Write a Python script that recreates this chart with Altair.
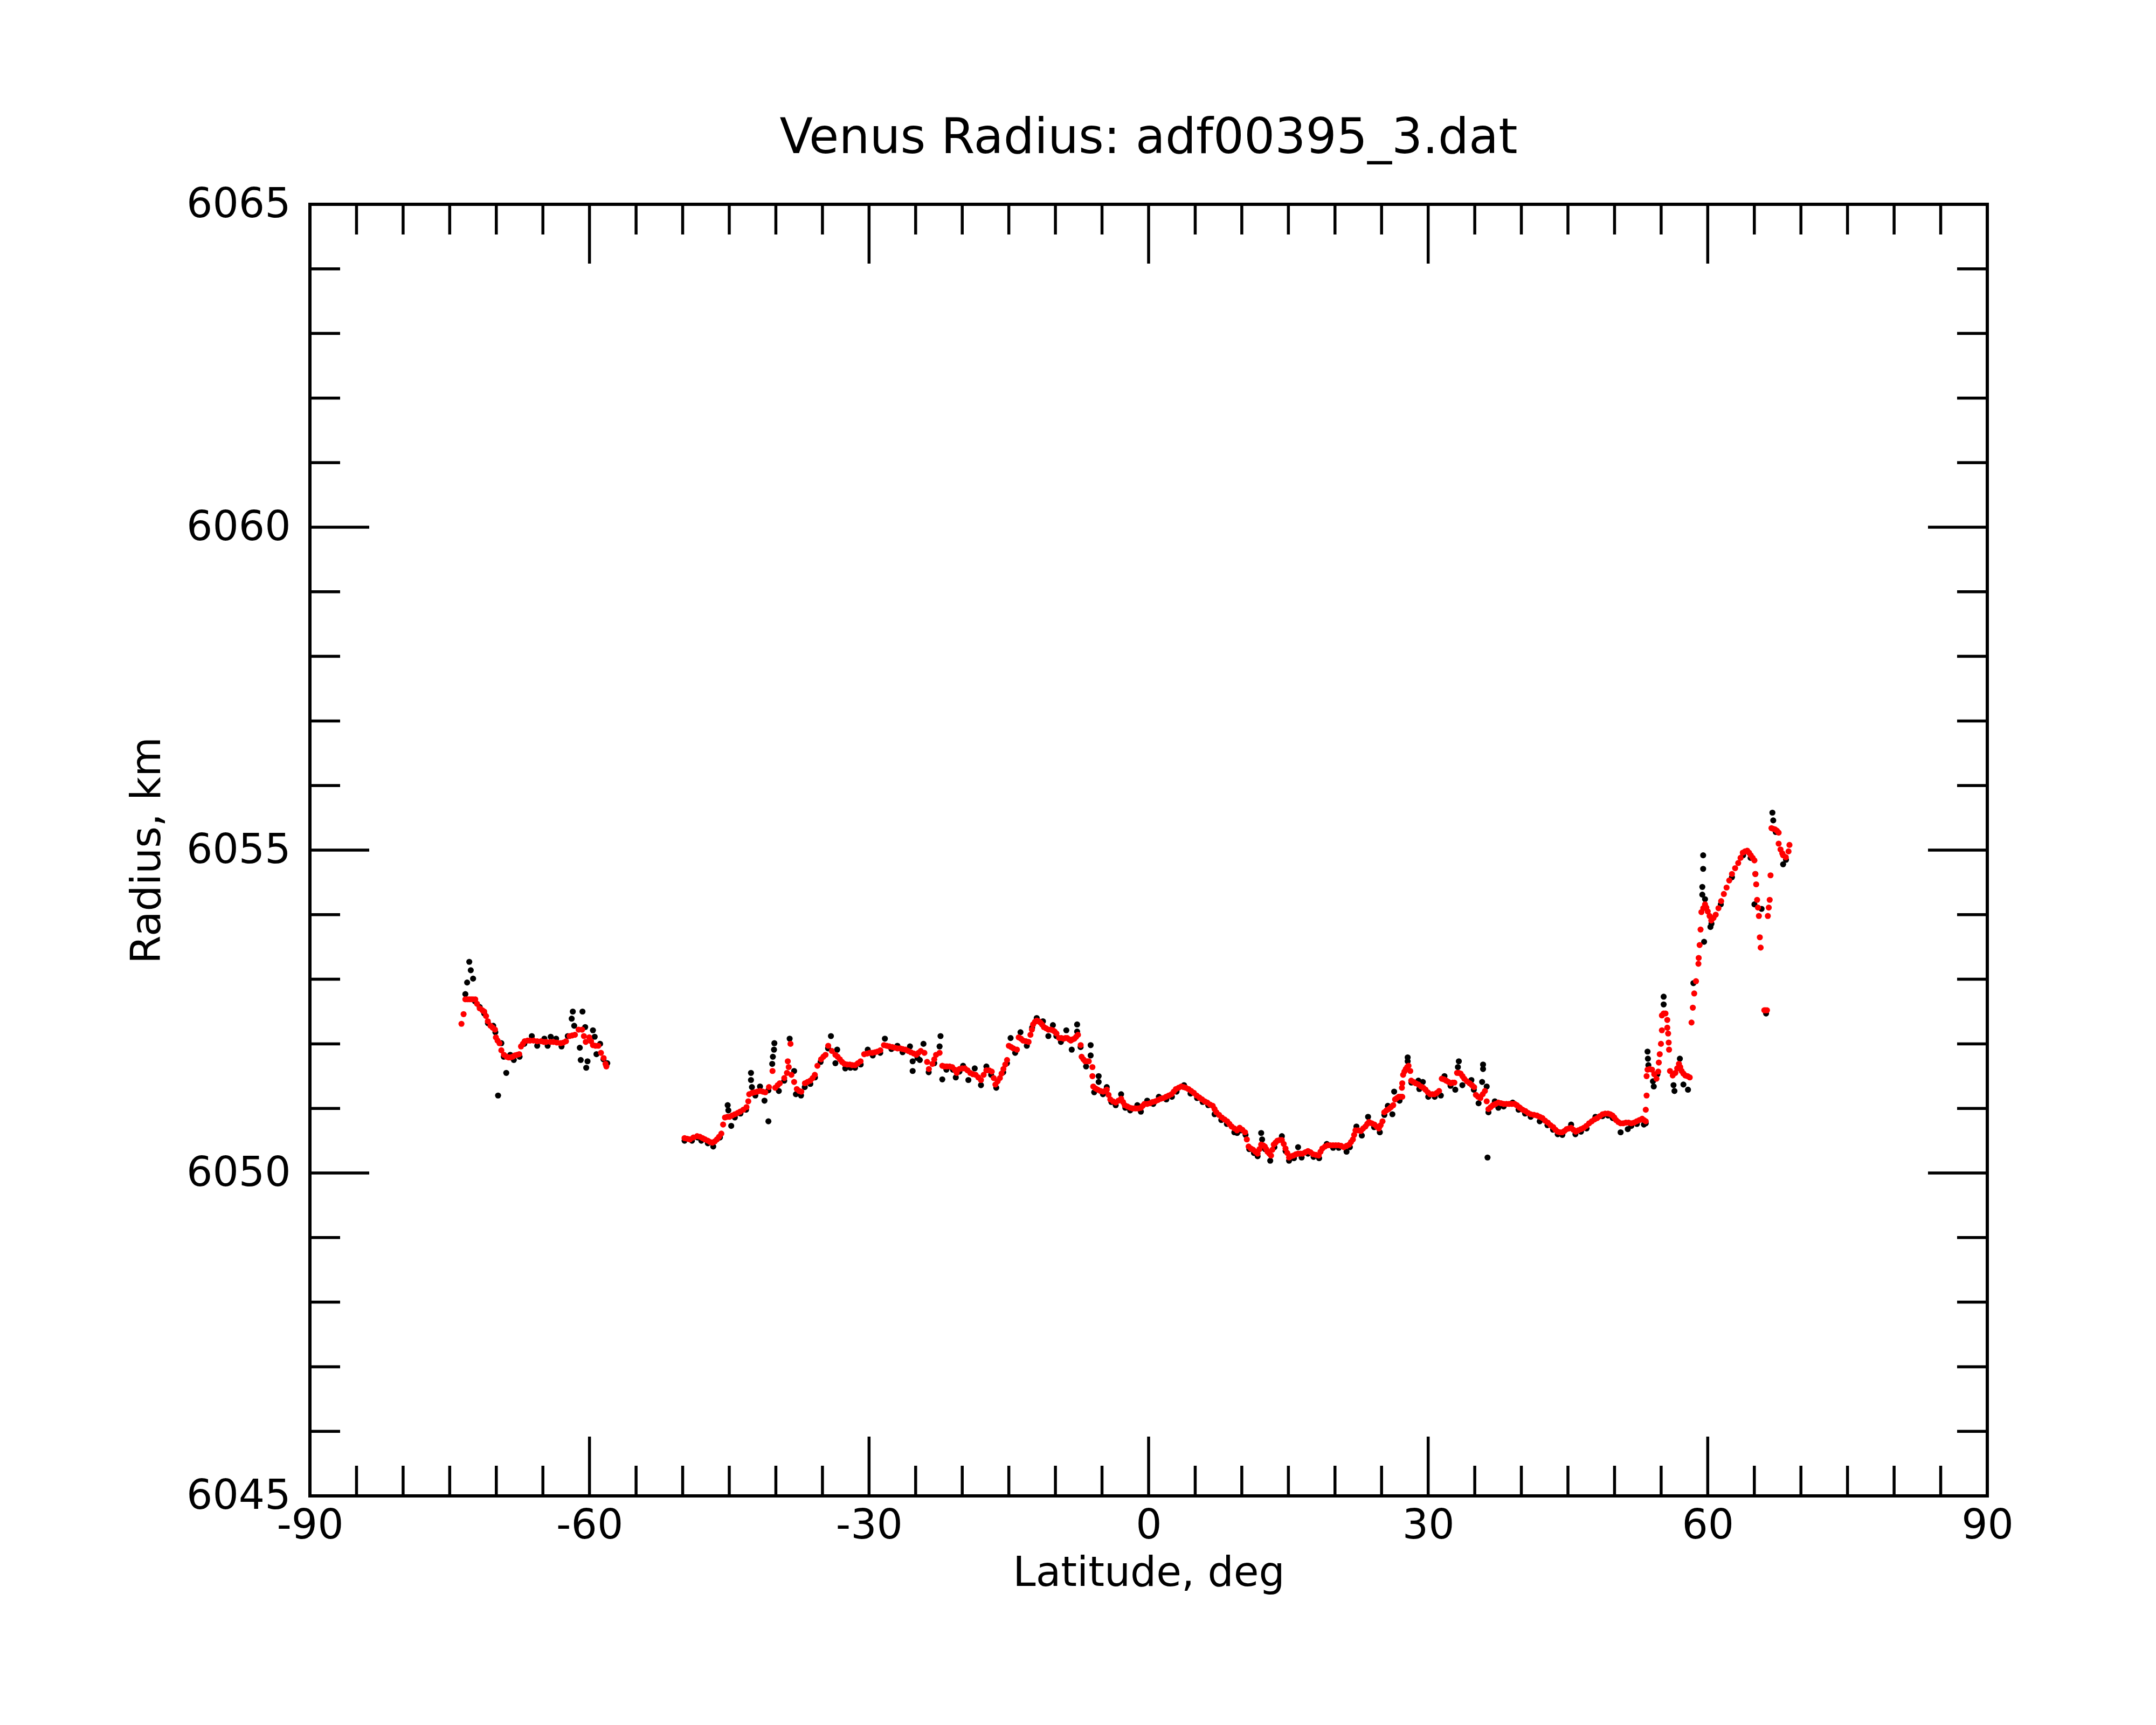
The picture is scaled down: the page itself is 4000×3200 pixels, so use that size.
import altair as alt
import pandas as pd

# ---------------- data ----------------
# smoothed radius (red)
red_lat = [
    -73.74, -73.51, -73.32, -73.1, -72.9, -72.7, -72.5, -72.26, -72.07, -71.78, -71.5, -71.30, -71.10, -70.91,
    -70.62, -70.38, -70.14, -70.04, -69.86, -69.66, -69.46, -69.18, -68.89, -68.7, -68.5, -68.25, -68.02, -67.78,
    -67.54, -67.35, -67.15, -66.96, -66.65, -66.38, -66.0, -65.61, -65.2, -64.9, -64.65, -64.2, -63.87, -63.5,
    -63.1, -62.8, -62.52, -62.14, -61.85, -61.56, -61.17, -60.79, -60.60, -60.40, -60.02, -59.83, -59.63, -59.35,
    -59.05, -58.77, -58.48, -58.28, -58.19,
    -49.80, -49.5, -49.22, -48.85, -48.45, -48.15, -47.87, -47.6, -47.30, -47.05, -46.81, -46.55, -46.33, -46.1,
    -45.85, -45.66, -45.46, -45.2, -44.98, -44.7, -44.40, -44.1, -43.83, -43.5, -43.15, -42.96, -42.86, -42.55,
    -42.28, -42.0, -41.70, -41.4, -41.13, -40.74, -40.36, -40.07, -39.8, -39.58, -39.10, -38.81, -38.72, -38.43,
    -38.62, -38.33, -38.04, -37.75, -37.5, -37.27, -36.88, -36.6, -36.31, -36.05, -35.82, -35.54, -35.15, -34.9,
    -34.67, -34.38, -33.99, -33.61, -33.37, -33.13, -32.9, -32.64, -32.35, -32.07, -31.8, -31.49, -31.2, -30.91,
    -30.52, -30.2, -29.94, -29.65, -29.37, -29.1, -28.79, -28.40, -28.1, -27.82, -27.5, -27.24, -26.95, -26.67,
    -26.4, -26.09, -25.8, -25.51, -25.2, -24.93, -24.7, -24.45, -24.06, -23.77, -23.58, -23.20, -23.0, -22.81,
    -22.43, -22.14, -21.9, -21.65, -21.35, -21.08, -20.8, -20.59,
    -20.30, -20.0, -19.72, -19.43, -19.14, -18.85, -18.56, -18.27, -17.99, -17.7, -17.41, -17.12, -16.83, -16.62,
    -16.44, -16.2, -15.96, -15.78, -15.58, -15.38, -15.19, -15.0, -14.75, -14.52, -14.13, -13.94, -13.7, -13.46,
    -13.17, -12.88, -12.68, -12.52, -12.40, -12.2, -12.01, -11.8, -11.62, -11.43, -11.24, -11.0, -10.76, -10.5,
    -10.27, -10.08, -9.89, -9.60, -9.36, -9.12, -8.93, -8.73, -8.54, -8.35, -8.15, -7.96, -7.77, -7.58, -7.29,
    -7.19, -7.0, -6.80, -6.61, -6.42, -6.03, -6.03, -5.94, -5.7, -5.46, -5.17, -4.88, -4.68, -4.49, -4.3, -4.11,
    -3.82, -3.53, -3.24, -2.95, -2.75, -2.56, -2.27, -1.98, -1.7, -1.41, -1.12, -0.83, -0.64, -0.44, -0.15,
    0.14, 0.43, 0.71, 1.0, 1.29, 1.58, 1.87, 2.16, 2.45, 2.7, 2.93, 3.22, 3.51, 3.75, 3.99, 4.28, 4.57, 4.86,
    5.15, 5.44, 5.73, 6.02, 6.30, 6.59, 6.88, 7.08, 7.27, 7.56, 7.85, 8.14, 8.43, 8.67, 8.91, 9.2, 9.49,
    9.77, 10.06, 10.35, 10.54, 10.73, 10.97, 11.22, 11.46, 11.70, 11.9, 12.08, 12.28, 12.47, 12.62, 12.76, 12.95,
    13.14, 13.28, 13.43, 13.62, 13.82, 14.06, 14.30, 14.5, 14.69, 14.88, 15.07, 15.31, 15.55, 15.8, 16.04, 16.28,
    16.52, 16.81, 17.10, 17.38, 17.67, 17.96, 18.25, 18.45, 18.64, 18.93, 19.22, 19.5, 19.79, 20.08, 20.37, 20.66,
    20.95, 21.24, 21.53, 21.72, 21.92, 22.06, 22.20, 22.5, 22.78, 23.02, 23.27, 23.46, 23.65, 23.94, 24.23, 24.47,
    24.71, 24.9, 25.10, 25.29, 25.53, 25.77, 26.01, 26.25, 26.45, 26.64, 26.83, 27.02, 27.22, 27.18, 27.22, 27.31,
    27.45, 27.60, 27.75, 27.89, 28.08, 28.18, 28.42, 28.66, 28.95, 29.24, 29.48, 29.72, 29.96, 30.21, 30.45, 30.69,
    30.93, 31.17, 31.46, 31.7, 31.94, 32.18, 32.42, 32.62, 32.81, 33.10, 33.29, 33.48, 33.68, 33.87, 34.16, 34.45,
    34.69, 34.93, 35.12, 35.36, 35.60, 35.85, 36.09, 36.28, 36.47, 36.71, 36.95, 37.24, 37.53, 37.82, 38.11, 38.4,
    38.69, 38.98, 39.27, 39.51, 39.75,
    39.85, 40.14, 40.43, 40.72, 41.01, 41.35, 41.68, 41.97, 42.26, 42.55, 42.84, 43.13, 43.42, 43.66, 43.90, 44.14,
    44.38, 44.62, 44.86, 45.1, 45.34, 45.58, 45.83, 46.1, 46.40, 46.7, 46.98, 47.27, 47.56, 47.85, 48.14, 48.43,
    48.72, 49.0, 49.30, 49.54, 49.78, 49.97, 50.16, 50.4, 50.65, 50.93, 51.22, 51.51, 51.80, 52.09, 52.38, 52.67,
    52.96, 53.15, 53.35, 53.35, 53.44, 53.44, 53.54, 53.78, 54.02, 54.26, 54.50, 54.69, 54.75, 54.85, 54.98, 55.08,
    55.08, 55.27, 55.47, 55.66, 55.66, 55.75, 55.81, 55.85, 55.95, 56.24, 56.53, 56.72, 56.91, 57.05, 57.20, 57.39,
    57.59, 57.83, 58.07, 58.26, 58.40, 58.55, 58.74, 59.0, 59.03, 59.13, 59.23, 59.32, 59.52, 59.71, 59.85, 60.0,
    60.2, 60.38, 60.62, 60.86, 61.15, 61.44, 61.73, 62.02, 62.31, 62.60, 62.94, 63.27, 63.52, 63.76, 64.0, 64.24,
    64.43, 64.62, 64.82, 65.01, 65.11, 65.20, 65.30, 65.39, 65.49, 65.59, 65.68, 66.07, 66.2, 66.36, 66.45, 66.55,
    66.65, 66.74, 66.84, 67.03, 67.23, 67.42, 67.61, 67.61, 67.81, 68.0, 68.09, 68.38, 68.67, 68.77,
]
red_r = [
    6052.31, 6052.46, 6052.69, 6052.69, 6052.69, 6052.69, 6052.69, 6052.69, 6052.62, 6052.55, 6052.52, 6052.50, 6052.43, 6052.35,
    6052.28, 6052.25, 6052.22, 6052.10, 6052.05, 6052.01, 6051.90, 6051.83, 6051.80, 6051.79, 6051.79, 6051.80, 6051.82, 6051.83,
    6051.84, 6051.96, 6052.00, 6052.04, 6052.05, 6052.05, 6052.05, 6052.04, 6052.04, 6052.03, 6052.03, 6052.03, 6052.03, 6052.02,
    6052.01, 6052.02, 6052.04, 6052.12, 6052.13, 6052.14, 6052.22, 6052.22, 6052.12, 6052.03, 6052.10, 6052.04, 6051.98, 6051.97,
    6051.97, 6051.86, 6051.78, 6051.69, 6051.65,
    6050.54, 6050.53, 6050.52, 6050.55, 6050.57, 6050.56, 6050.54, 6050.52, 6050.50, 6050.48, 6050.47, 6050.49, 6050.52, 6050.56,
    6050.61, 6050.75, 6050.86, 6050.87, 6050.87, 6050.89, 6050.91, 6050.93, 6050.95, 6050.98, 6051.02, 6051.11, 6051.22, 6051.24,
    6051.25, 6051.26, 6051.27, 6051.26, 6051.25, 6051.33, 6051.58, 6051.32, 6051.36, 6051.39, 6051.47, 6051.55, 6051.73, 6052.00,
    6051.64, 6051.52, 6051.41, 6051.30, 6051.27, 6051.26, 6051.39, 6051.41, 6051.43, 6051.47, 6051.52, 6051.66, 6051.76, 6051.80,
    6051.83, 6051.97, 6051.89, 6051.83, 6051.80, 6051.76, 6051.72, 6051.69, 6051.68, 6051.68, 6051.67, 6051.67, 6051.70, 6051.73,
    6051.84, 6051.85, 6051.86, 6051.86, 6051.87, 6051.88, 6051.90, 6051.98, 6051.97, 6051.96, 6051.95, 6051.94, 6051.93, 6051.93,
    6051.92, 6051.91, 6051.89, 6051.87, 6051.85, 6051.83, 6051.86, 6051.89, 6051.86, 6051.72, 6051.61, 6051.69, 6051.76, 6051.83,
    6051.86, 6051.66, 6051.65, 6051.65, 6051.65, 6051.64, 6051.60, 6051.55,
    6051.61, 6051.62, 6051.62, 6051.59, 6051.55, 6051.53, 6051.52, 6051.48, 6051.44, 6051.52, 6051.59, 6051.59, 6051.57, 6051.47,
    6051.37, 6051.42, 6051.47, 6051.54, 6051.61, 6051.68, 6051.75, 6051.97, 6051.95, 6051.93, 6051.91, 6052.10, 6052.08, 6052.05,
    6052.04, 6052.03, 6052.14, 6052.22, 6052.30, 6052.34, 6052.36, 6052.35, 6052.33, 6052.30, 6052.26, 6052.24, 6052.22, 6052.22,
    6052.21, 6052.19, 6052.16, 6052.09, 6052.09, 6052.08, 6052.09, 6052.09, 6052.07, 6052.05, 6052.07, 6052.08, 6052.11, 6052.14, 6051.98,
    6051.80, 6051.76, 6051.73, 6051.73, 6051.73, 6051.64, 6051.50, 6051.34, 6051.31, 6051.29, 6051.27, 6051.26, 6051.27, 6051.29, 6051.21, 6051.14,
    6051.11, 6051.09, 6051.12, 6051.15, 6051.10, 6051.05, 6051.03, 6051.01, 6051.00, 6051.00, 6051.00, 6051.01, 6051.04, 6051.07, 6051.07,
    6051.08, 6051.10, 6051.11, 6051.13, 6051.15, 6051.16, 6051.18, 6051.20, 6051.22, 6051.26, 6051.30, 6051.32, 6051.34, 6051.33, 6051.32, 6051.30, 6051.27, 6051.24,
    6051.20, 6051.17, 6051.14, 6051.11, 6051.09, 6051.06, 6051.04, 6050.99, 6050.94, 6050.90, 6050.86, 6050.83, 6050.80, 6050.76, 6050.72, 6050.69, 6050.66,
    6050.70, 6050.67, 6050.63, 6050.52, 6050.41, 6050.38, 6050.36, 6050.33, 6050.30, 6050.37, 6050.44, 6050.43, 6050.41, 6050.37, 6050.33, 6050.30,
    6050.27, 6050.36, 6050.44, 6050.47, 6050.50, 6050.51, 6050.51, 6050.45, 6050.38, 6050.31, 6050.24, 6050.26, 6050.27, 6050.29, 6050.30, 6050.30,
    6050.30, 6050.32, 6050.34, 6050.32, 6050.29, 6050.28, 6050.27, 6050.33, 6050.38, 6050.41, 6050.43, 6050.43, 6050.43, 6050.43, 6050.43, 6050.42,
    6050.40, 6050.42, 6050.44, 6050.48, 6050.52, 6050.59, 6050.66, 6050.66, 6050.65, 6050.69, 6050.72, 6050.76, 6050.79, 6050.77, 6050.75, 6050.72,
    6050.69, 6050.74, 6050.80, 6050.94, 6050.97, 6050.99, 6051.02, 6051.05, 6051.14, 6051.16, 6051.18, 6051.18, 6051.18, 6051.32, 6051.39, 6051.52,
    6051.57, 6051.61, 6051.64, 6051.66, 6051.58, 6051.43, 6051.41, 6051.39, 6051.37, 6051.34, 6051.32, 6051.29, 6051.25, 6051.22, 6051.22, 6051.22,
    6051.24, 6051.27, 6051.46, 6051.45, 6051.43, 6051.41, 6051.39, 6051.40, 6051.40, 6051.55, 6051.55, 6051.54, 6051.50, 6051.46, 6051.42, 6051.39,
    6051.36, 6051.33, 6051.21, 6051.18, 6051.16, 6051.22, 6051.27, 6051.11, 6050.99, 6051.02, 6051.05, 6051.07, 6051.09, 6051.08, 6051.07, 6051.07,
    6051.07, 6051.07, 6051.07, 6051.05, 6051.02,
    6051.01, 6050.98, 6050.96, 6050.93, 6050.91, 6050.90, 6050.89, 6050.87, 6050.85, 6050.81, 6050.78, 6050.74, 6050.71, 6050.67, 6050.64, 6050.63,
    6050.63, 6050.65, 6050.68, 6050.69, 6050.70, 6050.67, 6050.64, 6050.66, 6050.68, 6050.70, 6050.73, 6050.77, 6050.80, 6050.83, 6050.85, 6050.88,
    6050.91, 6050.92, 6050.92, 6050.91, 6050.89, 6050.86, 6050.82, 6050.79, 6050.77, 6050.77, 6050.78, 6050.78, 6050.77, 6050.78, 6050.80, 6050.82,
    6050.84, 6050.82, 6050.80, 6050.98, 6051.20, 6051.50, 6051.60, 6051.61, 6051.60, 6051.53, 6051.46, 6051.57, 6051.71, 6051.84, 6052.00, 6052.21,
    6052.44, 6052.47, 6052.47, 6052.37, 6052.25, 6052.16, 6052.02, 6051.91, 6051.58, 6051.51, 6051.55, 6051.62, 6051.69, 6051.64, 6051.58, 6051.54,
    6051.51, 6051.50, 6051.48, 6052.33, 6052.56, 6052.78, 6052.97, 6053.24, 6053.33, 6053.53, 6053.77, 6054.04, 6054.10, 6054.16, 6054.11, 6054.05,
    6053.98, 6053.91, 6053.95, 6054.00, 6054.10, 6054.21, 6054.32, 6054.42, 6054.53, 6054.63, 6054.72, 6054.80, 6054.88, 6054.96, 6054.98, 6054.99,
    6054.96, 6054.92, 6054.88, 6054.84, 6054.63, 6054.47, 6054.23, 6054.11, 6053.98, 6053.65, 6053.49, 6052.52, 6052.52, 6052.52, 6053.98, 6054.11,
    6054.23, 6054.61, 6055.34, 6055.33, 6055.32, 6055.30, 6055.27, 6055.10, 6055.01, 6054.95, 6054.92, 6054.89, 6054.98, 6055.08,
]

# raw radius (black)
black_lat = [
    -73.32, -73.13, -72.90, -72.74, -72.49, -72.3, -71.78, -71.3, -70.9, -70.33, -70.1, -69.46, -69.2, -68.93,
    -69.81, -68.5, -68.12, -67.5, -67.0, -66.19, -65.61, -64.84, -64.49, -64.16, -63.58, -63.0, -62.33, -61.79,
    -60.75, -61.91, -61.64, -60.46, -61.04, -60.94, -60.21, -60.35, -59.63, -59.44, -59.25, -58.86, -58.5, -58.09,
    -49.8, -49.0, -48.4, -48.0, -47.3, -46.72, -46.0, -45.17, -45.1, -44.79, -44.4, -43.8, -43.2, -42.67, -42.67,
    -42.57, -42.2, -41.70, -41.22, -40.8, -40.16, -40.20, -40.32, -40.39, -40.80, -39.68, -39.1, -38.52, -38.04,
    -37.85, -37.3, -36.9, -36.3, -35.8, -35.2, -34.09, -34.4, -33.42, -33.61, -32.55, -32.0, -31.5, -30.9, -30.14,
    -29.6, -28.8, -28.30, -27.6, -26.96, -26.4, -25.61, -25.32, -25.32, -24.8, -24.16, -24.55, -23.6, -23.0,
    -22.33, -22.43, -22.14, -21.7, -21.0, -20.69,
    -20.3, -19.91, -19.34, -18.66, -17.99, -17.41, -16.9, -16.35, -15.6, -15.2, -14.81, -14.32, -13.75, -13.07,
    -12.5, -12.01, -11.34, -10.76, -10.27, -9.9, -9.41, -8.83, -8.25, -7.67, -7.67, -7.3, -6.71, -6.22, -6.22,
    -5.84, -5.36, -5.36, -4.9, -4.49, -4.0, -3.53, -2.95, -2.5, -1.98, -1.21, -0.83, -0.15, 0.5, 1.10, 1.9, 2.5,
    3.0, 3.80, 4.5, 5.2, 5.8, 6.4, 7.08, 7.8, 8.4, 9.20, 9.5,
    9.9, 10.4, 10.8, 11.3, 11.7, 12.08, 12.18, 12.5, 13.05, 13.5, 14.30, 14.7, 15.07, 15.6, 16.04, 16.42, 17.1,
    17.7, 18.3, 19.12, 19.8, 20.4, 21.24, 21.6, 22.30, 22.88, 23.55, 24.2, 24.81, 25.3, 25.67, 26.16, 26.35,
    26.93, 27.80, 27.80, 28.2, 28.95, 29.43, 29.05, 30.01, 30.7, 31.36, 31.75, 32.4, 32.91, 33.29, 33.19, 33.67,
    34.64, 34.9, 35.41, 35.89, 35.89, 35.79, 36.28, 36.37, 36.47, 37.15, 37.53, 38.1, 39.07, 39.7,
    40.4, 41.0, 41.97, 42.8, 43.4, 43.9, 44.4, 45.34, 45.8, 46.4, 47.0, 47.95, 48.7, 49.3, 49.8, 50.65, 51.42,
    51.8, 52.4, 53.15, 53.35, 53.54, 53.58, 53.63, 54.21, 54.12, 54.6, 55.27, 55.27, 56.33, 56.43, 57.01, 57.39,
    57.88, 59.51, 59.51, 59.42, 59.42, 59.71, 60.29, 59.61, 58.46, 60.4, 61.4, 62.6, 63.8, 64.6, 65.11, 65.01,
    65.78, 66.26, 66.94, 67.03, 67.3, 68.09, 68.4,
]
black_r = [
    6052.77, 6052.95, 6053.27, 6053.14, 6053.01, 6052.66, 6052.57, 6052.47, 6052.32, 6052.28, 6052.18, 6052.01, 6051.80, 6051.55,
    6051.20, 6051.83, 6051.75, 6051.80, 6052.00, 6052.12, 6051.97, 6052.08, 6051.97, 6052.11, 6052.08, 6051.96, 6052.12, 6052.50,
    6052.50, 6052.39, 6052.28, 6052.26, 6051.94, 6051.75, 6051.73, 6051.63, 6052.21, 6052.11, 6051.84, 6052.00, 6051.76, 6051.70,
    6050.50, 6050.50, 6050.55, 6050.50, 6050.46, 6050.41, 6050.55, 6051.05, 6050.97, 6050.73, 6050.86, 6050.92, 6050.98, 6051.55, 6051.44,
    6051.33, 6051.20, 6051.34, 6051.12, 6051.28, 6052.01, 6051.91, 6051.80, 6051.69, 6050.80, 6051.27, 6051.43, 6052.08, 6051.58,
    6051.22, 6051.20, 6051.33, 6051.38, 6051.48, 6051.72, 6052.12, 6051.93, 6051.91, 6051.70, 6051.62, 6051.63, 6051.63, 6051.68, 6051.91,
    6051.82, 6051.86, 6052.08, 6051.92, 6051.97, 6051.87, 6051.96, 6051.73, 6051.58, 6051.78, 6052.00, 6051.75, 6051.56, 6051.70,
    6052.12, 6051.96, 6051.45, 6051.60, 6051.60, 6051.48,
    6051.57, 6051.66, 6051.44, 6051.62, 6051.36, 6051.65, 6051.52, 6051.32, 6051.56, 6051.70, 6052.09, 6051.86, 6052.18, 6051.97,
    6052.25, 6052.40, 6052.35, 6052.12, 6052.29, 6052.12, 6052.03, 6052.21, 6051.91, 6052.30, 6052.19, 6051.95, 6051.65, 6051.98, 6051.82,
    6051.25, 6051.50, 6051.41, 6051.22, 6051.33, 6051.10, 6051.05, 6051.22, 6051.01, 6050.97, 6051.05, 6050.95, 6051.12, 6051.07, 6051.18, 6051.14, 6051.18,
    6051.26, 6051.36, 6051.23, 6051.16, 6051.10, 6051.05, 6050.91, 6050.82, 6050.76, 6050.63, 6050.62,
    6050.66, 6050.59, 6050.37, 6050.31, 6050.26, 6050.62, 6050.52, 6050.37, 6050.19, 6050.40, 6050.57, 6050.34, 6050.19, 6050.23, 6050.40, 6050.24, 6050.30,
    6050.25, 6050.23, 6050.45, 6050.39, 6050.39, 6050.33, 6050.40, 6050.72, 6050.58, 6050.87, 6050.71, 6050.63, 6050.90, 6051.04, 6050.91, 6051.26,
    6051.12, 6051.79, 6051.73, 6051.40, 6051.43, 6051.41, 6051.30, 6051.18, 6051.18, 6051.20, 6051.50, 6051.35, 6051.29, 6051.73, 6051.64, 6051.36,
    6051.44, 6051.29, 6051.08, 6051.68, 6051.61, 6051.41, 6051.34, 6050.24, 6050.94, 6051.11, 6051.01, 6051.03, 6051.09, 6050.98,
    6050.92, 6050.87, 6050.80, 6050.74, 6050.67, 6050.60, 6050.59, 6050.75, 6050.60, 6050.64, 6050.69, 6050.87, 6050.88, 6050.89, 6050.85, 6050.63, 6050.68,
    6050.73, 6050.76, 6050.75, 6050.77, 6051.88, 6051.77, 6051.67, 6051.34, 6051.42, 6051.53, 6052.73, 6052.61, 6051.36, 6051.27, 6051.77, 6051.37,
    6051.29, 6054.92, 6054.71, 6054.43, 6054.31, 6054.24, 6053.81, 6053.58, 6052.94, 6053.86, 6054.16, 6054.58, 6054.92, 6054.88, 6054.63, 6054.16,
    6054.09, 6052.47, 6055.58, 6055.46, 6055.28, 6054.78, 6054.85,
]

# axis ticks and labels
x_major = [-90, -60, -30, 0, 30, 60, 90]
x_minor = [-85, -80, -75, -70, -65, -55, -50, -45, -40, -35, -25, -20, -15, -10, -5,
           5, 10, 15, 20, 25, 35, 40, 45, 50, 55, 65, 70, 75, 80, 85]
y_major = [6045, 6050, 6055, 6060, 6065]
y_minor = [6046, 6047, 6048, 6049, 6051, 6052, 6053, 6054, 6056, 6057, 6058, 6059,
           6061, 6062, 6063, 6064]

title_text = "Venus Radius: adf00395_3.dat"
x_title = "Latitude, deg"
y_title = "Radius, km"

# ---------------- chart ----------------
W, H = 3112, 2396
MAJ, MIN = 110, 56
FONT = "DejaVu Sans"
TW = 5.5
PT = 125

xs = alt.Scale(domain=[-90, 90], nice=False, zero=False)
ys = alt.Scale(domain=[6045, 6065], nice=False, zero=False)

red_df = pd.DataFrame({"lat": red_lat, "r": red_r})
black_df = pd.DataFrame({"lat": black_lat, "r": black_r})
xmaj = pd.DataFrame({"lat": x_major})
xmin = pd.DataFrame({"lat": x_minor})
ymaj = pd.DataFrame({"r": y_major})
ymin = pd.DataFrame({"r": y_minor})

x_axis = alt.Axis(
    values=x_major, labelExpr="'' + datum.value", ticks=False, domain=False, grid=False,
    labelFont=FONT, labelFontSize=76, labelColor="black", labelPadding=18,
    labelFlush=False, labelOverlap=False, labelLimit=1000,
    title=x_title, titleFont=FONT, titleFontSize=76, titleFontWeight="normal",
    titleColor="black", titleBaseline="alphabetic", titleY=166, titleX=W / 2,
)
y_axis = alt.Axis(
    values=y_major, labelExpr="'' + datum.value", ticks=False, domain=False, grid=False,
    labelFont=FONT, labelFontSize=76, labelColor="black", labelPadding=36,
    labelFlush=False, labelOverlap=False, labelLimit=1000,
    title=y_title, titleFont=FONT, titleFontSize=76, titleFontWeight="normal",
    titleColor="black", titleBaseline="alphabetic", titleAngle=270,
    titleX=-279, titleY=H / 2, titleAlign="center",
)

X = alt.X("lat:Q", scale=xs, axis=x_axis)
Y = alt.Y("r:Q", scale=ys, axis=y_axis)


def xticks(df, length, bottom):
    y0 = H if bottom else 0
    y1 = H - length if bottom else length
    return alt.Chart(df).mark_rule(color="black", strokeWidth=TW).encode(
        x=X, y=alt.value(y0), y2=alt.value(y1)
    )


def yticks(df, length, left):
    x0 = 0 if left else W
    x1 = length if left else W - length
    return alt.Chart(df).mark_rule(color="black", strokeWidth=TW).encode(
        y=Y, x=alt.value(x0), x2=alt.value(x1)
    )


black = alt.Chart(black_df).mark_circle(size=PT, color="black", opacity=1).encode(x=X, y=Y)
red = alt.Chart(red_df).mark_circle(size=PT, color="#ff0000", opacity=1).encode(x=X, y=Y)

chart = alt.layer(
    black, red,
    xticks(xmaj, MAJ, True), xticks(xmaj, MAJ, False),
    xticks(xmin, MIN, True), xticks(xmin, MIN, False),
    yticks(ymaj, MAJ, True), yticks(ymaj, MAJ, False),
    yticks(ymin, MIN, True), yticks(ymin, MIN, False),
).properties(
    width=W, height=H,
    title=alt.TitleParams(
        text=title_text, font=FONT, fontSize=90, fontWeight="normal", color="black",
        anchor="middle", frame="group", baseline="alphabetic", offset=93, dy=126,
    ),
    padding={"left": 567, "top": 371, "right": 300, "bottom": 400},
    autosize=alt.AutoSizeParams(type="none"),
    background="white",
).configure_view(stroke="black", strokeWidth=6)

chart.save("out.html", embed_options={"renderer": "svg", "actions": False})
